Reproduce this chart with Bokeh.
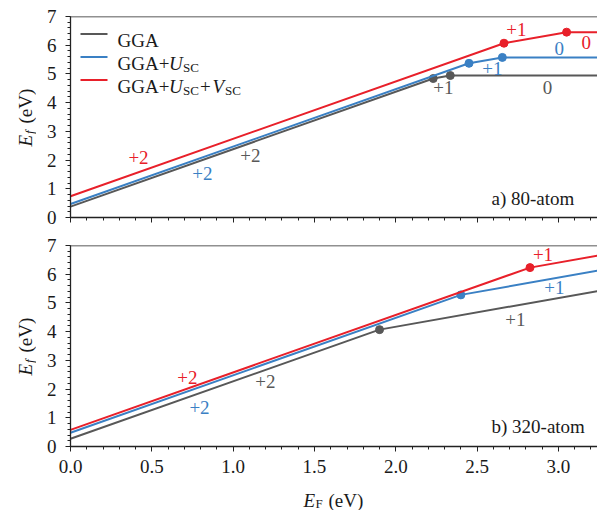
import math
from bokeh.plotting import figure
from bokeh.layouts import column, row
from bokeh.models import (Range1d, SingleIntervalTicker, PrintfTickFormatter, Span, Label,
                          CustomJSTickFormatter)
from bokeh.core.properties import value
from bokeh.embed import file_html
from bokeh.resources import INLINE

# ---------------- data ----------------
# a) 80-atom: breakpoints of formation energy vs Fermi level
a_gga_x = [0.0, 2.23, 2.335, 3.24]
a_gga_y = [0.38, 4.84, 4.945, 4.945]
a_u_x = [0.0, 2.45, 2.655, 3.24]
a_u_y = [0.47, 5.37, 5.575, 5.575]
a_uv_x = [0.0, 2.665, 3.05, 3.24]
a_uv_y = [0.74, 6.07, 6.455, 6.455]

# b) 320-atom
b_gga_x = [0.0, 1.90, 3.24]
b_gga_y = [0.27, 4.07, 5.41]
b_u_x = [0.0, 2.40, 3.24]
b_u_y = [0.48, 5.28, 6.12]
b_uv_x = [0.0, 2.825, 3.24]
b_uv_y = [0.58, 6.23, 6.645]

# charge-state labels: text, x, y
a_lab_gga = (["+2", "+1", "0"], [1.106, 2.293, 2.932], [2.16, 4.53, 4.53])
a_lab_u = (["+2", "+1", "0"], [0.811, 2.594, 3.005], [1.53, 5.19, 5.89])
a_lab_uv = (["+2", "+1", "0"], [0.418, 2.741, 3.171], [2.09, 6.55, 6.10])
b_lab_gga = (["+2", "+1"], [1.198, 2.735], [2.26, 4.43])
b_lab_u = (["+2", "+1"], [0.793, 2.975], [1.37, 5.52])
b_lab_uv = (["+2", "+1"], [0.719, 2.905], [2.41, 6.68])

x_ticks_interval = 0.5
y_ticks_interval = 1

GRAY = "#585858"
BLUE = "#3a80c4"
RED = "#e8202a"
INK = "#1a1a1a"
FONT = "Liberation Serif"
FS = "19px"
SUB = "13px"

XMAX = 3.24
STRIP_W = 36
W = 597 - STRIP_W
FRAME_W = 527
FRAME_H = 201
SX = FRAME_W / XMAX
SY = FRAME_H / 7.0


def tx(px):
    return (px - 70) / SX


def blank_fig(width, height, xr, yr, left=0):
    f = figure(width=width, height=height, output_backend="svg", toolbar_location=None,
               title=None, x_range=Range1d(*xr), y_range=Range1d(*yr),
               min_border_left=left, min_border_right=0, min_border_top=0, min_border_bottom=0)
    f.axis.visible = False
    f.grid.visible = False
    f.outline_line_color = None
    return f


def make_fig(height, border_top, border_bottom, show_xlabels):
    p = figure(width=W, height=height, output_backend="svg", toolbar_location=None,
               x_range=Range1d(0, XMAX), y_range=Range1d(0, 7),
               min_border_left=70 - STRIP_W, min_border_right=0,
               min_border_top=border_top, min_border_bottom=border_bottom)
    p.grid.visible = False
    p.outline_line_color = None
    for ax in (p.xaxis[0], p.yaxis[0]):
        ax.axis_line_color = "#222222"
        ax.axis_line_width = 1.3
        ax.major_tick_line_color = "#222222"
        ax.minor_tick_line_color = "#222222"
        ax.major_tick_in = 0
        ax.major_tick_out = 5
        ax.minor_tick_in = 0
        ax.minor_tick_out = 3
        ax.major_label_text_font = FONT
        ax.major_label_text_font_size = FS
        ax.major_label_text_color = INK
    p.xaxis[0].ticker = SingleIntervalTicker(interval=x_ticks_interval, num_minor_ticks=5)
    p.yaxis[0].ticker = SingleIntervalTicker(interval=y_ticks_interval, num_minor_ticks=5)
    p.yaxis[0].major_label_standoff = 9
    if show_xlabels:
        p.xaxis[0].formatter = PrintfTickFormatter(format="%.1f")
        p.xaxis[0].major_label_standoff = 8
    else:
        p.xaxis[0].formatter = CustomJSTickFormatter(code="return ''")
        p.xaxis[0].major_label_standoff = 0
    p.add_layout(Span(location=7, dimension="width", line_color="#222222", line_width=1.5))
    return p


def series(p, xs, ys, color, labs):
    p.line(xs, ys, line_color=color, line_width=2)
    p.scatter(xs[1:-1], ys[1:-1], size=8, fill_color=color, line_color=color)
    t, lx, ly = labs
    p.text(lx, ly, text=t, text_color=color, text_font=value(FONT), text_font_size=value(FS),
           text_align="center", text_baseline="middle")


def piece(p, x, y, text, italic=False, size=FS, angle=0.0):
    p.text([x], [y], text=[text], text_font=value(FONT), text_font_size=value(size),
           text_font_style="italic" if italic else "normal", text_color=INK,
           text_align="left", text_baseline="alphabetic", angle=angle)


# ---------------- panel a ----------------
p1 = make_fig(231, 16, 14, False)
series(p1, a_gga_x, a_gga_y, GRAY, a_lab_gga)
series(p1, a_u_x, a_u_y, BLUE, a_lab_u)
series(p1, a_uv_x, a_uv_y, RED, a_lab_uv)
p1.add_layout(Label(x=tx(491), y=(217 - 198) / SY, text="a) 80-atom", text_font=FONT,
                    text_font_size=FS, text_color=INK, text_baseline="middle"))

# legend (manual, for sub/italic text)
yA = lambda py: (217 - py) / SY
for col, ly in ((GRAY, 33.5), (BLUE, 56.5), (RED, 79.5)):
    p1.segment(x0=[tx(80)], y0=[yA(ly)], x1=[tx(107)], y1=[yA(ly)], line_color=col, line_width=2)
piece(p1, tx(117), yA(40), "GGA")
piece(p1, tx(117), yA(63), "GGA+")
piece(p1, tx(168.5), yA(63), "U", italic=True)
piece(p1, tx(182.5), yA(66.5), "SC", size=SUB)
piece(p1, tx(117), yA(86), "GGA+")
piece(p1, tx(168.5), yA(86), "U", italic=True)
piece(p1, tx(182.5), yA(89.5), "SC", size=SUB)
piece(p1, tx(199.5), yA(86), "+")
piece(p1, tx(212), yA(86), "V", italic=True)
piece(p1, tx(224.5), yA(89.5), "SC", size=SUB)

# ---------------- panel b ----------------
P2_H = 14 + FRAME_H + 40
p2 = make_fig(P2_H, 14, 40, True)
series(p2, b_gga_x, b_gga_y, GRAY, b_lab_gga)
series(p2, b_u_x, b_u_y, BLUE, b_lab_u)
series(p2, b_uv_x, b_uv_y, RED, b_lab_uv)
p2.add_layout(Label(x=tx(491), y=(446 - 426) / SY, text="b) 320-atom", text_font=FONT,
                    text_font_size=FS, text_color=INK, text_baseline="middle"))

# ---------------- x-axis label strip (pixel coordinates, y = 510 - py) ----------------
XL_H = 510 - 231 - P2_H
px_lab = blank_fig(W, XL_H, (70, 597), (0, XL_H), left=70 - STRIP_W)
piece(px_lab, 303, 510 - 500, "E", italic=True)
piece(px_lab, 315, 510 - 503, "F", size=SUB)
piece(px_lab, 328, 510 - 500, "(eV)")

# ---------------- y-axis label strip (pixel coordinates) ----------------
strip = blank_fig(STRIP_W, 510, (0, STRIP_W), (0, 510))
ang = math.pi / 2
for start in (146, 375):
    piece(strip, 25, 510 - start, "E", italic=True, angle=ang)
    piece(strip, 29, 510 - (start - 12.5), "f", italic=True, size=SUB, angle=ang)
    piece(strip, 25, 510 - (start - 23), "(eV)", angle=ang)

layout = row(strip, column(p1, p2, px_lab, spacing=0), spacing=0)
open("out.html", "w").write(file_html(layout, INLINE))
